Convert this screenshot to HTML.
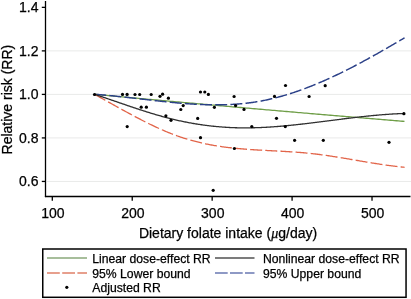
<!DOCTYPE html>
<html><head><meta charset="utf-8"><style>
html,body{margin:0;padding:0;background:#fff;}
body{width:411px;height:299px;overflow:hidden;}
svg{display:block;will-change:transform;}
text{font-family:"Liberation Sans",sans-serif;fill:#000;stroke:#000;stroke-width:0.25px;}
.tk{font-size:14px;}
.lg{font-size:12.2px;}
.mu{font-family:"Liberation Serif",serif;font-style:italic;}
</style></head><body>
<svg width="411" height="299" viewBox="0 0 411 299">
<line x1="47" y1="50.88" x2="411" y2="50.88" stroke="#e9eae9" stroke-width="1"/>
<line x1="47" y1="94.40" x2="411" y2="94.40" stroke="#e9eae9" stroke-width="1"/>
<line x1="47" y1="137.92" x2="411" y2="137.92" stroke="#e9eae9" stroke-width="1"/>
<line x1="47" y1="181.44" x2="411" y2="181.44" stroke="#e9eae9" stroke-width="1"/>
<path d="M94.50,94.30 L96.50,94.49 L98.50,94.67 L100.50,94.86 L102.50,95.05 L104.50,95.23 L106.50,95.42 L108.50,95.60 L110.50,95.79 L112.50,95.97 L114.50,96.16 L116.50,96.34 L118.50,96.53 L120.50,96.71 L122.50,96.90 L124.50,97.08 L126.50,97.27 L128.50,97.45 L130.50,97.64 L132.50,97.82 L134.50,98.00 L136.50,98.19 L138.50,98.37 L140.50,98.55 L142.50,98.74 L144.50,98.92 L146.50,99.10 L148.50,99.28 L150.50,99.47 L152.50,99.65 L154.50,99.83 L156.50,100.01 L158.50,100.19 L160.50,100.38 L162.50,100.56 L164.50,100.74 L166.50,100.92 L168.50,101.10 L170.50,101.28 L172.50,101.46 L174.50,101.64 L176.50,101.82 L178.50,102.00 L180.50,102.18 L182.50,102.36 L184.50,102.54 L186.50,102.72 L188.50,102.90 L190.50,103.08 L192.50,103.26 L194.50,103.44 L196.50,103.62 L198.50,103.80 L200.50,103.97 L202.50,104.15 L204.50,104.33 L206.50,104.51 L208.50,104.69 L210.50,104.86 L212.50,105.04 L214.50,105.22 L216.50,105.40 L218.50,105.57 L220.50,105.75 L222.50,105.93 L224.50,106.10 L226.50,106.28 L228.50,106.46 L230.50,106.63 L232.50,106.81 L234.50,106.99 L236.50,107.16 L238.50,107.34 L240.50,107.51 L242.50,107.69 L244.50,107.86 L246.50,108.04 L248.50,108.21 L250.50,108.39 L252.50,108.56 L254.50,108.74 L256.50,108.91 L258.50,109.09 L260.50,109.26 L262.50,109.43 L264.50,109.61 L266.50,109.78 L268.50,109.95 L270.50,110.13 L272.50,110.30 L274.50,110.47 L276.50,110.65 L278.50,110.82 L280.50,110.99 L282.50,111.16 L284.50,111.33 L286.50,111.51 L288.50,111.68 L290.50,111.85 L292.50,112.02 L294.50,112.19 L296.50,112.36 L298.50,112.54 L300.50,112.71 L302.50,112.88 L304.50,113.05 L306.50,113.22 L308.50,113.39 L310.50,113.56 L312.50,113.73 L314.50,113.90 L316.50,114.07 L318.50,114.24 L320.50,114.41 L322.50,114.58 L324.50,114.75 L326.50,114.92 L328.50,115.09 L330.50,115.25 L332.50,115.42 L334.50,115.59 L336.50,115.76 L338.50,115.93 L340.50,116.10 L342.50,116.26 L344.50,116.43 L346.50,116.60 L348.50,116.77 L350.50,116.93 L352.50,117.10 L354.50,117.27 L356.50,117.44 L358.50,117.60 L360.50,117.77 L362.50,117.94 L364.50,118.10 L366.50,118.27 L368.50,118.43 L370.50,118.60 L372.50,118.77 L374.50,118.93 L376.50,119.10 L378.50,119.26 L380.50,119.43 L382.50,119.59 L384.50,119.76 L386.50,119.92 L388.50,120.09 L390.50,120.25 L392.50,120.42 L394.50,120.58 L396.50,120.75 L398.50,120.91 L400.50,121.07 L402.50,121.24 L404.50,121.40" fill="none" stroke="#6f9e48" stroke-width="1.3"/>
<path d="M94.50,94.30 L95.50,94.37 L96.50,94.44 L97.50,94.51 L98.50,94.59 L99.50,94.67 L100.50,94.75 L101.50,94.83 L102.50,94.92 L103.50,95.00 L104.50,95.09 L105.50,95.18 L106.50,95.27 L107.50,95.36 L108.50,95.45 L109.50,95.55 L110.50,95.64 L111.50,95.74 L112.50,95.84 L113.50,95.94 L114.50,96.04 L115.50,96.14 L116.50,96.24 L117.50,96.35 L118.50,96.45 L119.50,96.56 L120.50,96.66 L121.50,96.77 L122.50,96.88 L123.50,96.99 L124.50,97.10 L125.50,97.21 L126.50,97.32 L127.50,97.44 L128.50,97.55 L129.50,97.66 L130.50,97.78 L131.50,97.89 L132.50,98.00 L133.50,98.12 L134.50,98.24 L135.50,98.35 L136.50,98.47 L137.50,98.58 L138.50,98.70 L139.50,98.82 L140.50,98.93 L141.50,99.05 L142.50,99.17 L143.50,99.28 L144.50,99.40 L145.50,99.52 L146.50,99.63 L147.50,99.75 L148.50,99.86 L149.50,99.98 L150.50,100.09 L151.50,100.21 L152.50,100.32 L153.50,100.44 L154.50,100.55 L155.50,100.66 L156.50,100.78 L157.50,100.89 L158.50,101.00 L159.50,101.11 L160.50,101.22 L161.50,101.33 L162.50,101.43 L163.50,101.54 L164.50,101.65 L165.50,101.75 L166.50,101.86 L167.50,101.96 L168.50,102.06 L169.50,102.16 L170.50,102.26 L171.50,102.36 L172.50,102.46 L173.50,102.55 L174.50,102.65 L175.50,102.74 L176.50,102.83 L177.50,102.92 L178.50,103.01 L179.50,103.10 L180.50,103.18 L181.50,103.27 L182.50,103.35 L183.50,103.43 L184.50,103.51 L185.50,103.59 L186.50,103.66 L187.50,103.73 L188.50,103.80 L189.50,103.87 L190.50,103.94 L191.50,104.01 L192.50,104.07 L193.50,104.13 L194.50,104.19 L195.50,104.25 L196.50,104.30 L197.50,104.35 L198.50,104.40 L199.50,104.45 L200.50,104.49 L201.50,104.53 L202.50,104.57 L203.50,104.61 L204.50,104.65 L205.50,104.68 L206.50,104.71 L207.50,104.73 L208.50,104.76 L209.50,104.78 L210.50,104.80 L211.50,104.81 L212.50,104.82 L213.50,104.83 L214.50,104.84 L215.50,104.84 L216.50,104.84 L217.50,104.84 L218.50,104.83 L219.50,104.82 L220.50,104.81 L221.50,104.79 L222.50,104.77 L223.50,104.75 L224.50,104.72 L225.50,104.69 L226.50,104.66 L227.50,104.62 L228.50,104.58 L229.50,104.54 L230.50,104.49 L231.50,104.44 L232.50,104.38 L233.50,104.32 L234.50,104.26 L235.50,104.19 L236.50,104.12 L237.50,104.04 L238.50,103.97 L239.50,103.88 L240.50,103.79 L241.50,103.70 L242.50,103.61 L243.50,103.51 L244.50,103.40 L245.50,103.29 L246.50,103.18 L247.50,103.06 L248.50,102.94 L249.50,102.81 L250.50,102.68 L251.50,102.55 L252.50,102.41 L253.50,102.26 L254.50,102.11 L255.50,101.96 L256.50,101.80 L257.50,101.64 L258.50,101.47 L259.50,101.29 L260.50,101.11 L261.50,100.93 L262.50,100.74 L263.50,100.55 L264.50,100.35 L265.50,100.15 L266.50,99.94 L267.50,99.72 L268.50,99.51 L269.50,99.28 L270.50,99.05 L271.50,98.82 L272.50,98.58 L273.50,98.34 L274.50,98.10 L275.50,97.84 L276.50,97.59 L277.50,97.33 L278.50,97.06 L279.50,96.79 L280.50,96.52 L281.50,96.24 L282.50,95.96 L283.50,95.67 L284.50,95.38 L285.50,95.09 L286.50,94.79 L287.50,94.48 L288.50,94.17 L289.50,93.86 L290.50,93.54 L291.50,93.22 L292.50,92.90 L293.50,92.57 L294.50,92.24 L295.50,91.90 L296.50,91.56 L297.50,91.21 L298.50,90.86 L299.50,90.51 L300.50,90.16 L301.50,89.79 L302.50,89.43 L303.50,89.06 L304.50,88.69 L305.50,88.32 L306.50,87.94 L307.50,87.55 L308.50,87.17 L309.50,86.78 L310.50,86.38 L311.50,85.99 L312.50,85.59 L313.50,85.18 L314.50,84.77 L315.50,84.36 L316.50,83.95 L317.50,83.53 L318.50,83.11 L319.50,82.69 L320.50,82.26 L321.50,81.83 L322.50,81.39 L323.50,80.96 L324.50,80.52 L325.50,80.07 L326.50,79.63 L327.50,79.18 L328.50,78.73 L329.50,78.27 L330.50,77.81 L331.50,77.35 L332.50,76.89 L333.50,76.42 L334.50,75.95 L335.50,75.48 L336.50,75.00 L337.50,74.53 L338.50,74.04 L339.50,73.56 L340.50,73.07 L341.50,72.59 L342.50,72.09 L343.50,71.60 L344.50,71.10 L345.50,70.61 L346.50,70.10 L347.50,69.60 L348.50,69.09 L349.50,68.59 L350.50,68.08 L351.50,67.56 L352.50,67.05 L353.50,66.53 L354.50,66.01 L355.50,65.49 L356.50,64.96 L357.50,64.44 L358.50,63.91 L359.50,63.38 L360.50,62.84 L361.50,62.31 L362.50,61.77 L363.50,61.23 L364.50,60.69 L365.50,60.15 L366.50,59.61 L367.50,59.06 L368.50,58.51 L369.50,57.96 L370.50,57.41 L371.50,56.86 L372.50,56.31 L373.50,55.75 L374.50,55.19 L375.50,54.63 L376.50,54.07 L377.50,53.51 L378.50,52.94 L379.50,52.38 L380.50,51.81 L381.50,51.24 L382.50,50.67 L383.50,50.10 L384.50,49.53 L385.50,48.96 L386.50,48.38 L387.50,47.80 L388.50,47.23 L389.50,46.65 L390.50,46.07 L391.50,45.49 L392.50,44.91 L393.50,44.32 L394.50,43.74 L395.50,43.15 L396.50,42.57 L397.50,41.98 L398.50,41.39 L399.50,40.81 L400.50,40.22 L401.50,39.63 L402.50,39.03 L403.50,38.44 L404.50,37.85 L404.60,37.79" fill="none" stroke="#2b4088" stroke-width="1.45" stroke-dasharray="12 3.19" stroke-dashoffset="0.30"/>
<path d="M94.50,94.30 L95.50,94.85 L96.50,95.40 L97.50,95.96 L98.50,96.51 L99.50,97.06 L100.50,97.62 L101.50,98.17 L102.50,98.72 L103.50,99.28 L104.50,99.84 L105.50,100.39 L106.50,100.95 L107.50,101.50 L108.50,102.06 L109.50,102.62 L110.50,103.17 L111.50,103.73 L112.50,104.29 L113.50,104.84 L114.50,105.40 L115.50,105.95 L116.50,106.51 L117.50,107.06 L118.50,107.61 L119.50,108.16 L120.50,108.72 L121.50,109.27 L122.50,109.81 L123.50,110.36 L124.50,110.91 L125.50,111.46 L126.50,112.00 L127.50,112.54 L128.50,113.09 L129.50,113.63 L130.50,114.16 L131.50,114.70 L132.50,115.24 L133.50,115.77 L134.50,116.30 L135.50,116.83 L136.50,117.36 L137.50,117.88 L138.50,118.41 L139.50,118.93 L140.50,119.45 L141.50,119.96 L142.50,120.47 L143.50,120.98 L144.50,121.49 L145.50,122.00 L146.50,122.50 L147.50,122.99 L148.50,123.49 L149.50,123.98 L150.50,124.47 L151.50,124.95 L152.50,125.44 L153.50,125.91 L154.50,126.39 L155.50,126.86 L156.50,127.32 L157.50,127.78 L158.50,128.24 L159.50,128.69 L160.50,129.14 L161.50,129.58 L162.50,130.02 L163.50,130.46 L164.50,130.89 L165.50,131.31 L166.50,131.73 L167.50,132.15 L168.50,132.56 L169.50,132.96 L170.50,133.36 L171.50,133.75 L172.50,134.14 L173.50,134.52 L174.50,134.90 L175.50,135.27 L176.50,135.64 L177.50,135.99 L178.50,136.35 L179.50,136.69 L180.50,137.03 L181.50,137.37 L182.50,137.70 L183.50,138.02 L184.50,138.34 L185.50,138.66 L186.50,138.96 L187.50,139.26 L188.50,139.56 L189.50,139.85 L190.50,140.14 L191.50,140.42 L192.50,140.69 L193.50,140.96 L194.50,141.23 L195.50,141.49 L196.50,141.74 L197.50,141.99 L198.50,142.24 L199.50,142.48 L200.50,142.71 L201.50,142.94 L202.50,143.17 L203.50,143.39 L204.50,143.61 L205.50,143.82 L206.50,144.03 L207.50,144.23 L208.50,144.43 L209.50,144.62 L210.50,144.81 L211.50,145.00 L212.50,145.18 L213.50,145.35 L214.50,145.53 L215.50,145.70 L216.50,145.86 L217.50,146.02 L218.50,146.18 L219.50,146.33 L220.50,146.48 L221.50,146.62 L222.50,146.77 L223.50,146.90 L224.50,147.04 L225.50,147.17 L226.50,147.30 L227.50,147.42 L228.50,147.54 L229.50,147.66 L230.50,147.77 L231.50,147.89 L232.50,148.00 L233.50,148.10 L234.50,148.21 L235.50,148.31 L236.50,148.40 L237.50,148.50 L238.50,148.59 L239.50,148.68 L240.50,148.77 L241.50,148.86 L242.50,148.94 L243.50,149.02 L244.50,149.10 L245.50,149.18 L246.50,149.25 L247.50,149.33 L248.50,149.40 L249.50,149.47 L250.50,149.54 L251.50,149.60 L252.50,149.67 L253.50,149.73 L254.50,149.80 L255.50,149.86 L256.50,149.92 L257.50,149.98 L258.50,150.04 L259.50,150.09 L260.50,150.15 L261.50,150.21 L262.50,150.26 L263.50,150.31 L264.50,150.37 L265.50,150.42 L266.50,150.47 L267.50,150.53 L268.50,150.58 L269.50,150.63 L270.50,150.68 L271.50,150.73 L272.50,150.78 L273.50,150.84 L274.50,150.89 L275.50,150.94 L276.50,150.99 L277.50,151.04 L278.50,151.10 L279.50,151.15 L280.50,151.20 L281.50,151.26 L282.50,151.31 L283.50,151.37 L284.50,151.43 L285.50,151.48 L286.50,151.54 L287.50,151.60 L288.50,151.66 L289.50,151.73 L290.50,151.79 L291.50,151.85 L292.50,151.92 L293.50,151.99 L294.50,152.06 L295.50,152.13 L296.50,152.20 L297.50,152.28 L298.50,152.35 L299.50,152.43 L300.50,152.51 L301.50,152.59 L302.50,152.68 L303.50,152.77 L304.50,152.86 L305.50,152.95 L306.50,153.04 L307.50,153.14 L308.50,153.24 L309.50,153.34 L310.50,153.44 L311.50,153.55 L312.50,153.66 L313.50,153.78 L314.50,153.89 L315.50,154.01 L316.50,154.13 L317.50,154.25 L318.50,154.38 L319.50,154.51 L320.50,154.64 L321.50,154.77 L322.50,154.91 L323.50,155.04 L324.50,155.18 L325.50,155.33 L326.50,155.47 L327.50,155.61 L328.50,155.76 L329.50,155.91 L330.50,156.06 L331.50,156.21 L332.50,156.36 L333.50,156.52 L334.50,156.68 L335.50,156.83 L336.50,156.99 L337.50,157.15 L338.50,157.31 L339.50,157.48 L340.50,157.64 L341.50,157.80 L342.50,157.97 L343.50,158.14 L344.50,158.30 L345.50,158.47 L346.50,158.64 L347.50,158.81 L348.50,158.98 L349.50,159.15 L350.50,159.32 L351.50,159.49 L352.50,159.66 L353.50,159.83 L354.50,160.00 L355.50,160.17 L356.50,160.34 L357.50,160.51 L358.50,160.68 L359.50,160.86 L360.50,161.03 L361.50,161.20 L362.50,161.37 L363.50,161.53 L364.50,161.70 L365.50,161.87 L366.50,162.04 L367.50,162.21 L368.50,162.37 L369.50,162.54 L370.50,162.70 L371.50,162.87 L372.50,163.03 L373.50,163.19 L374.50,163.35 L375.50,163.51 L376.50,163.67 L377.50,163.82 L378.50,163.98 L379.50,164.13 L380.50,164.28 L381.50,164.43 L382.50,164.58 L383.50,164.73 L384.50,164.87 L385.50,165.01 L386.50,165.16 L387.50,165.29 L388.50,165.43 L389.50,165.57 L390.50,165.70 L391.50,165.83 L392.50,165.96 L393.50,166.08 L394.50,166.21 L395.50,166.33 L396.50,166.44 L397.50,166.56 L398.50,166.67 L399.50,166.78 L400.50,166.89 L401.50,166.99 L402.50,167.10 L403.50,167.19 L404.50,167.29 L404.60,167.30" fill="none" stroke="#e2654a" stroke-width="1.3" stroke-dasharray="12 3.16" stroke-dashoffset="14.78"/>
<path d="M94.50,94.30 L95.50,94.63 L96.50,94.96 L97.50,95.29 L98.50,95.62 L99.50,95.96 L100.50,96.29 L101.50,96.63 L102.50,96.96 L103.50,97.30 L104.50,97.64 L105.50,97.98 L106.50,98.32 L107.50,98.66 L108.50,99.00 L109.50,99.34 L110.50,99.68 L111.50,100.03 L112.50,100.37 L113.50,100.71 L114.50,101.06 L115.50,101.40 L116.50,101.74 L117.50,102.09 L118.50,102.43 L119.50,102.77 L120.50,103.12 L121.50,103.46 L122.50,103.80 L123.50,104.15 L124.50,104.49 L125.50,104.83 L126.50,105.17 L127.50,105.51 L128.50,105.85 L129.50,106.19 L130.50,106.53 L131.50,106.86 L132.50,107.20 L133.50,107.53 L134.50,107.87 L135.50,108.20 L136.50,108.53 L137.50,108.86 L138.50,109.19 L139.50,109.52 L140.50,109.85 L141.50,110.17 L142.50,110.50 L143.50,110.82 L144.50,111.14 L145.50,111.45 L146.50,111.77 L147.50,112.08 L148.50,112.40 L149.50,112.71 L150.50,113.02 L151.50,113.32 L152.50,113.63 L153.50,113.93 L154.50,114.23 L155.50,114.52 L156.50,114.82 L157.50,115.11 L158.50,115.40 L159.50,115.68 L160.50,115.97 L161.50,116.25 L162.50,116.53 L163.50,116.80 L164.50,117.07 L165.50,117.34 L166.50,117.61 L167.50,117.87 L168.50,118.13 L169.50,118.39 L170.50,118.64 L171.50,118.89 L172.50,119.13 L173.50,119.38 L174.50,119.61 L175.50,119.85 L176.50,120.08 L177.50,120.31 L178.50,120.53 L179.50,120.76 L180.50,120.97 L181.50,121.19 L182.50,121.40 L183.50,121.61 L184.50,121.81 L185.50,122.01 L186.50,122.21 L187.50,122.40 L188.50,122.59 L189.50,122.78 L190.50,122.96 L191.50,123.14 L192.50,123.32 L193.50,123.49 L194.50,123.66 L195.50,123.83 L196.50,123.99 L197.50,124.15 L198.50,124.31 L199.50,124.46 L200.50,124.61 L201.50,124.76 L202.50,124.90 L203.50,125.04 L204.50,125.18 L205.50,125.31 L206.50,125.44 L207.50,125.56 L208.50,125.69 L209.50,125.80 L210.50,125.92 L211.50,126.03 L212.50,126.14 L213.50,126.25 L214.50,126.35 L215.50,126.45 L216.50,126.54 L217.50,126.64 L218.50,126.72 L219.50,126.81 L220.50,126.89 L221.50,126.97 L222.50,127.05 L223.50,127.12 L224.50,127.19 L225.50,127.25 L226.50,127.32 L227.50,127.37 L228.50,127.43 L229.50,127.48 L230.50,127.53 L231.50,127.58 L232.50,127.62 L233.50,127.66 L234.50,127.69 L235.50,127.73 L236.50,127.76 L237.50,127.78 L238.50,127.80 L239.50,127.82 L240.50,127.84 L241.50,127.85 L242.50,127.86 L243.50,127.87 L244.50,127.87 L245.50,127.87 L246.50,127.87 L247.50,127.87 L248.50,127.86 L249.50,127.85 L250.50,127.83 L251.50,127.81 L252.50,127.79 L253.50,127.77 L254.50,127.75 L255.50,127.72 L256.50,127.69 L257.50,127.65 L258.50,127.62 L259.50,127.58 L260.50,127.54 L261.50,127.50 L262.50,127.45 L263.50,127.40 L264.50,127.35 L265.50,127.30 L266.50,127.24 L267.50,127.19 L268.50,127.13 L269.50,127.06 L270.50,127.00 L271.50,126.93 L272.50,126.86 L273.50,126.79 L274.50,126.72 L275.50,126.65 L276.50,126.57 L277.50,126.49 L278.50,126.41 L279.50,126.33 L280.50,126.25 L281.50,126.16 L282.50,126.07 L283.50,125.98 L284.50,125.89 L285.50,125.80 L286.50,125.71 L287.50,125.61 L288.50,125.52 L289.50,125.42 L290.50,125.32 L291.50,125.22 L292.50,125.11 L293.50,125.01 L294.50,124.90 L295.50,124.80 L296.50,124.69 L297.50,124.58 L298.50,124.47 L299.50,124.36 L300.50,124.25 L301.50,124.13 L302.50,124.02 L303.50,123.90 L304.50,123.79 L305.50,123.67 L306.50,123.55 L307.50,123.43 L308.50,123.31 L309.50,123.19 L310.50,123.07 L311.50,122.95 L312.50,122.83 L313.50,122.70 L314.50,122.58 L315.50,122.46 L316.50,122.33 L317.50,122.21 L318.50,122.08 L319.50,121.95 L320.50,121.83 L321.50,121.70 L322.50,121.57 L323.50,121.44 L324.50,121.32 L325.50,121.19 L326.50,121.06 L327.50,120.93 L328.50,120.80 L329.50,120.68 L330.50,120.55 L331.50,120.42 L332.50,120.29 L333.50,120.16 L334.50,120.03 L335.50,119.91 L336.50,119.78 L337.50,119.65 L338.50,119.52 L339.50,119.40 L340.50,119.27 L341.50,119.14 L342.50,119.02 L343.50,118.89 L344.50,118.77 L345.50,118.64 L346.50,118.52 L347.50,118.39 L348.50,118.27 L349.50,118.15 L350.50,118.03 L351.50,117.91 L352.50,117.79 L353.50,117.67 L354.50,117.55 L355.50,117.43 L356.50,117.32 L357.50,117.20 L358.50,117.09 L359.50,116.97 L360.50,116.86 L361.50,116.75 L362.50,116.64 L363.50,116.53 L364.50,116.42 L365.50,116.31 L366.50,116.21 L367.50,116.10 L368.50,116.00 L369.50,115.90 L370.50,115.80 L371.50,115.70 L372.50,115.60 L373.50,115.51 L374.50,115.41 L375.50,115.32 L376.50,115.23 L377.50,115.14 L378.50,115.05 L379.50,114.97 L380.50,114.88 L381.50,114.80 L382.50,114.72 L383.50,114.64 L384.50,114.56 L385.50,114.49 L386.50,114.42 L387.50,114.35 L388.50,114.28 L389.50,114.21 L390.50,114.15 L391.50,114.08 L392.50,114.02 L393.50,113.97 L394.50,113.91 L395.50,113.86 L396.50,113.81 L397.50,113.76 L398.50,113.71 L399.50,113.67 L400.50,113.63 L401.50,113.59 L402.50,113.55 L403.50,113.52 L403.90,113.50" fill="none" stroke="#303030" stroke-width="1.3"/>
<circle cx="94.5" cy="94.5" r="1.6"/>
<circle cx="122.5" cy="94.4" r="1.6"/>
<circle cx="127.1" cy="94.4" r="1.6"/>
<circle cx="135" cy="94.5" r="1.6"/>
<circle cx="139.7" cy="94.5" r="1.6"/>
<circle cx="151.2" cy="94.5" r="1.6"/>
<circle cx="141.2" cy="107.2" r="1.6"/>
<circle cx="146.4" cy="107.2" r="1.6"/>
<circle cx="127.2" cy="126.6" r="1.6"/>
<circle cx="160" cy="96.3" r="1.6"/>
<circle cx="162.6" cy="94.2" r="1.6"/>
<circle cx="168.4" cy="98.2" r="1.6"/>
<circle cx="183.2" cy="105.6" r="1.6"/>
<circle cx="180.8" cy="109.5" r="1.6"/>
<circle cx="165.9" cy="115.8" r="1.6"/>
<circle cx="171" cy="120.3" r="1.6"/>
<circle cx="200.5" cy="92.0" r="1.6"/>
<circle cx="204.8" cy="92.0" r="1.6"/>
<circle cx="208.4" cy="94.4" r="1.6"/>
<circle cx="214.4" cy="107.3" r="1.6"/>
<circle cx="197.7" cy="118.4" r="1.6"/>
<circle cx="200.5" cy="137.7" r="1.6"/>
<circle cx="234.1" cy="96.5" r="1.6"/>
<circle cx="235.6" cy="105.6" r="1.6"/>
<circle cx="244" cy="109.4" r="1.6"/>
<circle cx="234.4" cy="148.5" r="1.6"/>
<circle cx="251.8" cy="126.6" r="1.6"/>
<circle cx="276.5" cy="118.3" r="1.6"/>
<circle cx="274.5" cy="96.4" r="1.6"/>
<circle cx="285.5" cy="85.5" r="1.6"/>
<circle cx="285.3" cy="126.6" r="1.6"/>
<circle cx="294.6" cy="140.3" r="1.6"/>
<circle cx="309.1" cy="96.5" r="1.6"/>
<circle cx="325.2" cy="85.7" r="1.6"/>
<circle cx="323.3" cy="140.3" r="1.6"/>
<circle cx="389" cy="142.3" r="1.6"/>
<circle cx="403.9" cy="113.7" r="1.6"/>
<circle cx="213.2" cy="190.3" r="1.6"/>
<line x1="45.5" y1="1" x2="45.5" y2="197.1" stroke="#000" stroke-width="1.3"/>
<line x1="44.9" y1="196.5" x2="410.5" y2="196.5" stroke="#000" stroke-width="1.3"/>
<line x1="41.8" y1="7.36" x2="45.5" y2="7.36" stroke="#000" stroke-width="1.3"/>
<text x="38.5" y="12.26" text-anchor="end" class="tk">1.4</text>
<line x1="41.8" y1="50.88" x2="45.5" y2="50.88" stroke="#000" stroke-width="1.3"/>
<text x="38.5" y="55.78" text-anchor="end" class="tk">1.2</text>
<line x1="41.8" y1="94.40" x2="45.5" y2="94.40" stroke="#000" stroke-width="1.3"/>
<text x="38.5" y="99.30" text-anchor="end" class="tk">1.0</text>
<line x1="41.8" y1="137.92" x2="45.5" y2="137.92" stroke="#000" stroke-width="1.3"/>
<text x="38.5" y="142.82" text-anchor="end" class="tk">0.8</text>
<line x1="41.8" y1="181.44" x2="45.5" y2="181.44" stroke="#000" stroke-width="1.3"/>
<text x="38.5" y="186.34" text-anchor="end" class="tk">0.6</text>
<line x1="52.30" y1="196.5" x2="52.30" y2="200.8" stroke="#000" stroke-width="1.3"/>
<text x="52.90" y="218.1" text-anchor="middle" class="tk">100</text>
<line x1="132.23" y1="196.5" x2="132.23" y2="200.8" stroke="#000" stroke-width="1.3"/>
<text x="132.83" y="218.1" text-anchor="middle" class="tk">200</text>
<line x1="212.16" y1="196.5" x2="212.16" y2="200.8" stroke="#000" stroke-width="1.3"/>
<text x="212.76" y="218.1" text-anchor="middle" class="tk">300</text>
<line x1="292.09" y1="196.5" x2="292.09" y2="200.8" stroke="#000" stroke-width="1.3"/>
<text x="292.69" y="218.1" text-anchor="middle" class="tk">400</text>
<line x1="372.02" y1="196.5" x2="372.02" y2="200.8" stroke="#000" stroke-width="1.3"/>
<text x="372.62" y="218.1" text-anchor="middle" class="tk">500</text>
<text x="228" y="237.6" text-anchor="middle" class="tk">Dietary folate intake (<tspan class="mu">μ</tspan>g/day)</text>
<text transform="translate(12,99.6) rotate(-90)" text-anchor="middle" class="tk">Relative risk (RR)</text>
<rect x="42.75" y="249" width="363.3" height="48.3" fill="none" stroke="#000" stroke-width="1.5"/>
<line x1="47" y1="258" x2="87" y2="258" stroke="#8aa87a" stroke-width="1.7"/>
<line x1="215" y1="258" x2="254.5" y2="258" stroke="#505050" stroke-width="1.7"/>
<line x1="47" y1="273" x2="87" y2="273" stroke="#e08068" stroke-width="1.7" stroke-dasharray="12.8 2.4"/>
<line x1="215" y1="273" x2="254.5" y2="273" stroke="#6a78b2" stroke-width="1.7" stroke-dasharray="12.7 2.3"/>
<circle cx="66.8" cy="287.3" r="1.6"/>
<text x="92.3" y="263.3" class="lg">Linear dose-effect RR</text>
<text x="263" y="263.3" class="lg">Nonlinear dose-effect RR</text>
<text x="92.3" y="277.9" class="lg">95% Lower bound</text>
<text x="263" y="277.9" class="lg">95% Upper bound</text>
<text x="92.3" y="291.8" class="lg">Adjusted RR</text>
</svg>
</body></html>
